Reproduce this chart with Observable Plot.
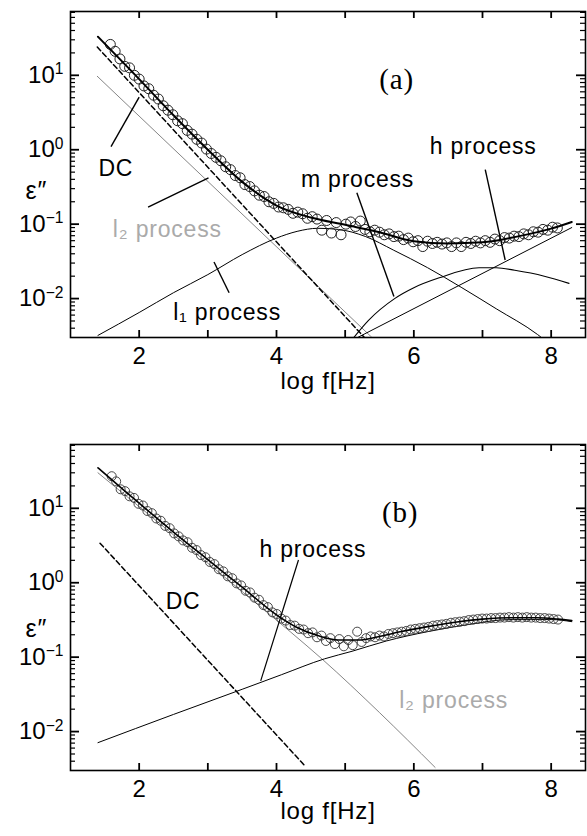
<!DOCTYPE html>
<html><head><meta charset="utf-8">
<script src="https://cdn.jsdelivr.net/npm/d3@7"></script>
<script src="https://cdn.jsdelivr.net/npm/@observablehq/plot@0.6"></script>
<style>
body{margin:0;background:#fff}
#chart svg{display:block}
</style>
</head><body><div id="chart"></div>
<script>
// ---------- shared axis values ----------
const xTicks = [2, 3, 4, 5, 6, 7, 8];
const xTickLabels = [2, 4, 6, 8];
const yMajor = [0.01, 0.1, 1, 10];
const yMajorLabels = ["10^-2", "10^-1", "10^0", "10^1"];
const yMinor = [0.004,0.005,0.006,0.007,0.008,0.009,
                0.02,0.03,0.04,0.05,0.06,0.07,0.08,0.09,
                0.2,0.3,0.4,0.5,0.6,0.7,0.8,0.9,
                2,3,4,5,6,7,8,9,20,30,40,50,60,70];
const xLabel = "log f[Hz]";
const yLabel = "ε″";

// ---------- panel (a) ----------
const dataA = [
[1.58,26],[1.65,21],[1.72,16.6],[1.79,13.2],[1.86,12.6],[1.93,10],[2.00,8.9],[2.07,7.2],[2.14,6.6],
[2.21,5.4],[2.28,4.8],[2.35,3.9],[2.42,3.4],[2.49,2.95],[2.56,2.45],[2.63,2.24],[2.70,1.82],[2.77,1.62],
[2.84,1.38],[2.91,1.23],[2.98,1.02],[3.05,0.89],[3.12,0.79],[3.19,0.71],[3.26,0.59],[3.33,0.54],[3.40,0.45],
[3.47,0.42],[3.54,0.34],[3.61,0.32],[3.68,0.28],[3.75,0.245],[3.82,0.235],[3.89,0.20],[3.96,0.19],[4.03,0.17],
[4.10,0.166],[4.17,0.158],[4.24,0.14],[4.31,0.145],[4.38,0.138],[4.45,0.12],[4.52,0.126],[4.59,0.117],
[4.66,0.083],[4.73,0.112],[4.80,0.076],[4.87,0.105],[4.94,0.072],[5.01,0.10],[5.08,0.107],[5.15,0.093],
[5.22,0.11],[5.29,0.085],[5.36,0.079],[5.43,0.083],[5.50,0.078],[5.57,0.072],[5.64,0.074],[5.71,0.068],
[5.78,0.069],[5.85,0.062],[5.92,0.065],[5.99,0.058],[6.06,0.060],[6.13,0.050],[6.20,0.059],[6.27,0.055],
[6.34,0.057],[6.41,0.054],[6.48,0.056],[6.55,0.050],[6.62,0.056],[6.69,0.050],[6.76,0.057],[6.83,0.055],
[6.90,0.059],[6.97,0.056],[7.04,0.060],[7.11,0.057],[7.18,0.063],[7.25,0.060],[7.32,0.066],[7.39,0.065],
[7.46,0.069],[7.53,0.068],[7.60,0.074],[7.67,0.072],[7.74,0.079],[7.81,0.078],[7.88,0.085],[7.95,0.083],
[8.02,0.091],[8.09,0.089]
];
const totalA = [[1.4,33],[2.0,8.9],[2.5,2.9],[3.0,1.0],[3.5,0.37],[4.0,0.178],[4.5,0.123],[5.0,0.098],
  [5.5,0.078],[6.0,0.059],[6.5,0.055],[7.0,0.057],[7.5,0.068],[8.0,0.087],[8.3,0.107]];
const dcA = [[1.39,24],[5.28,0.003]];
const l2A = [[1.39,9.7],[5.39,0.003]];
const l1A = [[1.4,0.0032],[2.0,0.0065],[2.5,0.012],[3.0,0.021],[3.5,0.039],[4.0,0.065],[4.3,0.08],
  [4.6,0.088],[4.9,0.085],[5.3,0.068],[5.7,0.045],[6.2,0.026],[6.7,0.014],[7.2,0.0073],[7.8,0.0033],[7.9,0.0028]];
const mA = [[5.1,0.0028],[5.34,0.0051],[5.72,0.010],[6.0,0.014],[6.37,0.019],[6.95,0.026],[7.2,0.026],
  [7.47,0.024],[7.9,0.020],[8.26,0.016]];
const hA = [[5.15,0.0029],[8.3,0.09]];
const pointersA = [
  {x1:1.59,y1:1.1,x2:2.0,y2:5.1},
  {x1:2.13,y1:0.17,x2:3.01,y2:0.42},
  {x1:3.31,y1:0.012,x2:3.09,y2:0.031},
  {x1:5.17,y1:0.265,x2:5.71,y2:0.0107},
  {x1:7.04,y1:0.54,x2:7.33,y2:0.033}
];
const labelsA = [
  {x:1.66,y:0.556,text:"DC"},
  {x:3.28,y:0.0065,text:"l₁ process"},
  {x:5.18,y:0.40,text:"m process"},
  {x:7.01,y:1.1,text:"h process"}
];
const greyLabelsA = [{x:2.41,y:0.085,text:"l₂ process"}];
const tagA = [{x:5.75,y:8.7,text:"(a)"}];

// ---------- panel (b) ----------
const dataB = [
[1.600,27],[1.665,23],[1.730,18],[1.795,17],[1.860,14.5],[1.925,13.8],[1.990,11.5],[2.055,10.9],[2.120,9.2],
[2.185,8.6],[2.250,7.3],[2.315,6.8],[2.380,5.8],[2.445,5.4],[2.510,4.6],[2.575,4.2],[2.640,3.7],[2.705,3.5],
[2.770,2.95],[2.835,2.75],[2.900,2.35],[2.965,2.2],[3.030,1.9],[3.095,1.78],[3.160,1.52],[3.225,1.42],
[3.290,1.22],[3.355,1.15],[3.420,0.98],[3.485,0.92],[3.550,0.78],[3.615,0.74],[3.680,0.63],[3.745,0.59],
[3.810,0.50],[3.875,0.47],[3.940,0.40],[4.005,0.38],[4.070,0.33],[4.135,0.31],[4.200,0.27],[4.265,0.265],
[4.330,0.24],[4.395,0.235],[4.460,0.21],[4.525,0.215],[4.590,0.185],[4.655,0.195],[4.720,0.165],[4.785,0.18],
[4.850,0.15],[4.915,0.175],[4.980,0.14],[5.045,0.17],[5.110,0.145],[5.175,0.22],[5.240,0.16],[5.305,0.18],
[5.370,0.19],[5.435,0.185],[5.500,0.195],[5.565,0.19],[5.630,0.205],[5.695,0.21],[5.760,0.215],[5.825,0.22],
[5.890,0.225],[5.955,0.235],[6.020,0.24],[6.085,0.245],[6.150,0.25],[6.215,0.255],[6.280,0.265],[6.345,0.27],
[6.410,0.275],[6.475,0.28],[6.540,0.29],[6.605,0.295],[6.670,0.30],[6.735,0.305],[6.800,0.315],[6.865,0.32],
[6.930,0.325],[6.995,0.33],[7.060,0.33],[7.125,0.335],[7.190,0.335],[7.255,0.34],[7.320,0.34],[7.385,0.345],
[7.450,0.34],[7.515,0.345],[7.580,0.34],[7.645,0.345],[7.710,0.34],[7.775,0.34],[7.840,0.335],[7.905,0.335],
[7.970,0.33],[8.035,0.325],[8.100,0.32]
];
const totalB = [[1.4,35],[1.78,17.4],[2.0,11.7],[2.5,4.8],[3.0,2.04],[3.5,0.87],[4.0,0.37],[4.3,0.25],
  [4.6,0.195],[4.9,0.17],[5.2,0.17],[5.5,0.19],[5.8,0.219],[6.2,0.257],[6.6,0.295],[7.0,0.324],[7.4,0.339],
  [7.8,0.339],[8.1,0.324],[8.3,0.31]];
const dcB = [[1.43,3.4],[4.41,0.0035]];
const l2B = [[1.4,30],[2.5,4.4],[3.5,0.76],[4.2,0.22],[4.66,0.095],[5.5,0.018],[6.31,0.0033]];
const hB = [[1.4,0.0071],[2.5,0.017],[3.5,0.037],[4.07,0.058],[4.7,0.095],[5.1,0.12],[5.6,0.165],[6.2,0.22],
  [6.8,0.275],[7.4,0.32],[8.0,0.32],[8.3,0.30]];
const pointersB = [{x1:4.32,y1:2.02,x2:3.77,y2:0.048}];
const labelsB = [
  {x:4.53,y:2.75,text:"h process"},
  {x:2.64,y:0.56,text:"DC"}
];
const greyLabelsB = [{x:6.58,y:0.026,text:"l₂ process"}];
const tagB = [{x:5.8,y:8.8,text:"(b)"}];

// ---------- drawing ----------
const X = d => d[0], Y = d => d[1];
const FRAME_W = 515, FRAME_H = 326;
function panel(o) {
  const fs = 24;
  const svg = Plot.plot({
    width: 587, height: o.height,
    marginLeft: 70, marginRight: 2, marginTop: o.mt, marginBottom: o.mb,
    style: {fontFamily: "'Liberation Sans', Arial, sans-serif", fontSize: fs + "px", color: "#000", background: "#fff"},
    x: {domain: [1, 8.5]},
    y: {type: "log", domain: [0.003, 72]},
    marks: [
      // inward ticks on all four sides
      Plot.tickX(xTicks, {x: d => d, insetTop: FRAME_H - 7, stroke: "#000", strokeWidth: 1.8}),
      Plot.tickX(xTicks, {x: d => d, insetBottom: FRAME_H - 7, stroke: "#000", strokeWidth: 1.8}),
      Plot.tickY(yMajor, {y: d => d, insetRight: FRAME_W - 9, stroke: "#000", strokeWidth: 1.8}),
      Plot.tickY(yMinor, {y: d => d, insetRight: FRAME_W - 5, stroke: "#000", strokeWidth: 1.2}),
      Plot.tickY(yMajor, {y: d => d, insetLeft: FRAME_W - 9, stroke: "#000", strokeWidth: 1.8}),
      Plot.tickY(yMinor, {y: d => d, insetLeft: FRAME_W - 5, stroke: "#000", strokeWidth: 1.2}),
      Plot.frame({strokeWidth: 1.6}),
      Plot.axisX({ticks: xTickLabels, tickSize: 0, tickPadding: 9, label: null, fontSize: fs}),
      Plot.axisY({ticks: yMajor, tickSize: 0, tickPadding: 7, tickFormat: d => yMajorLabels[yMajor.indexOf(d)], label: null, fontSize: fs}),
      ...o.marks,
      Plot.text([xLabel], {frameAnchor: "bottom", dy: o.xlDy, text: d => d, fontSize: 24}),
      Plot.text([yLabel], {frameAnchor: "left", dx: -45, dy: o.ylDy, text: d => d, fontSize: 25})
    ]
  });
  d3.select(svg).selectAll('g[aria-label="y-axis tick label"] text').each(function() {
    const s = this.textContent;
    if (!s.includes("^")) return;
    const [base, exp] = s.split("^");
    const t = d3.select(this);
    t.text(base);
    t.append("tspan").attr("dy", "-0.55em").attr("font-size", "0.65em").text(exp.replace("-", "−"));
  });
  d3.select(svg).selectAll('g[aria-label="text"] text').style("letter-spacing", "0.8px");
  return svg;
}

const lineStyle = {x: X, y: Y, clip: true};
const marksA = [
  Plot.line(l2A, {...lineStyle, stroke: "#666", strokeWidth: 0.8}),
  Plot.line(dcA, {...lineStyle, stroke: "#000", strokeWidth: 1.5, strokeDasharray: "5,3"}),
  Plot.line(l1A, {...lineStyle, stroke: "#000", strokeWidth: 1, curve: "monotone-x"}),
  Plot.line(mA, {...lineStyle, stroke: "#000", strokeWidth: 1.1, curve: "monotone-x"}),
  Plot.line(hA, {...lineStyle, stroke: "#000", strokeWidth: 1}),
  Plot.dot(dataA, {x: X, y: Y, r: 5, stroke: "#222", strokeWidth: 1, fill: "none"}),
  Plot.line(totalA, {...lineStyle, stroke: "#000", strokeWidth: 2, curve: "monotone-x"}),
  Plot.link(pointersA, {x1: "x1", y1: "y1", x2: "x2", y2: "y2", stroke: "#000", strokeWidth: 1.4}),
  Plot.text(labelsA, {x: "x", y: "y", text: "text", fontSize: 23, fill: "#000"}),
  Plot.text(greyLabelsA, {x: "x", y: "y", text: "text", fontSize: 23, fill: "#aaa"}),
  Plot.text(tagA, {x: "x", y: "y", text: "text", fontSize: 29, fontFamily: "'Liberation Serif', 'Times New Roman', serif"})
];
const marksB = [
  Plot.line(l2B, {...lineStyle, stroke: "#666", strokeWidth: 0.8, curve: "monotone-x"}),
  Plot.line(dcB, {...lineStyle, stroke: "#000", strokeWidth: 1.5, strokeDasharray: "5,3"}),
  Plot.line(hB, {...lineStyle, stroke: "#000", strokeWidth: 1, curve: "monotone-x"}),
  Plot.dot(dataB, {x: X, y: Y, r: 4.5, stroke: "#333", strokeWidth: 0.9, fill: "none"}),
  Plot.line(totalB, {...lineStyle, stroke: "#000", strokeWidth: 1.6, curve: "monotone-x"}),
  Plot.link(pointersB, {x1: "x1", y1: "y1", x2: "x2", y2: "y2", stroke: "#000", strokeWidth: 1.2}),
  Plot.text(labelsB, {x: "x", y: "y", text: "text", fontSize: 23, fill: "#000"}),
  Plot.text(greyLabelsB, {x: "x", y: "y", text: "text", fontSize: 23, fill: "#aaa"}),
  Plot.text(tagB, {x: "x", y: "y", text: "text", fontSize: 29, fontFamily: "'Liberation Serif', 'Times New Roman', serif"})
];

const root = document.getElementById("chart");
root.append(panel({height: 418, mt: 11, mb: 81, marks: marksA, xlDy: 51, ylDy: 16}));
root.append(panel({height: 418, mt: 26, mb: 66, marks: marksB, xlDy: 48, ylDy: 21}));
</script></body></html>
